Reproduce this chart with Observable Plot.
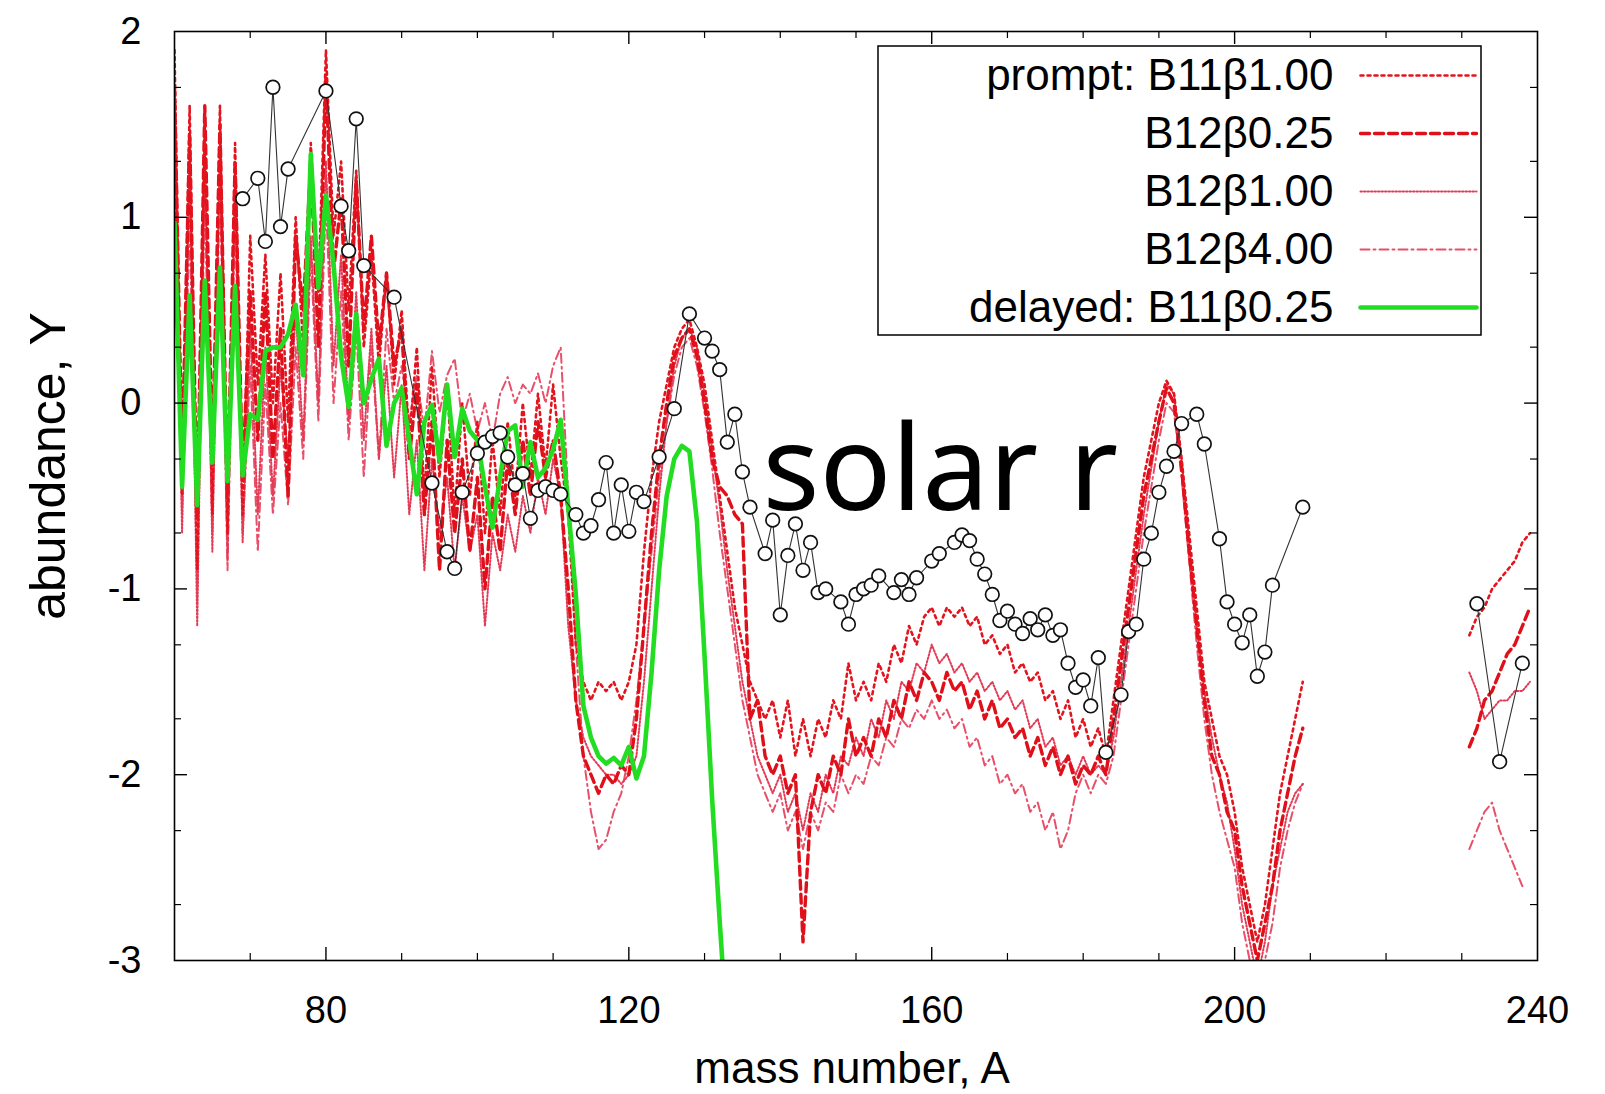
<!DOCTYPE html>
<html><head><meta charset="utf-8">
<script src="https://cdn.jsdelivr.net/npm/d3@7"></script>
<script src="https://cdn.jsdelivr.net/npm/@observablehq/plot@0.6"></script>
<style>html,body{margin:0;padding:0;background:#fff;} #chart{width:1605px;height:1094px;overflow:hidden;}</style>
</head><body><div id="chart"></div>
<script>
// ---------------- data ----------------
const seriesNames = ["prompt: B11β1.00", "B12β0.25", "B12β1.00", "B12β4.00", "delayed: B11β0.25"];
const massStart = 60;            // main red segments run A = 60 … 209
const tailMass = [231, 232, 233, 234, 235, 236, 237, 238, 239];

const b11b100 = [
  1.9, -0.5, 1.6, -0.9, 1.55, -0.6, 1.6, -0.7, 1.4, -0.6,
  0.9, 0.1, 0.8, 0.0, 0.7, -0.1, 1.0, 0.3, 1.4, 0.6,
  1.9, 0.9, 1.3, 0.5, 1.25, 0.3, 0.8, 0.2, 0.7, 0.1,
  0.5, -0.2, 0.3, -0.5, 0.2, -0.4, 0.1, -0.6, 0.0, -0.5,
  -0.1, -0.7, -0.2, -0.6, -0.1, -0.5, 0.0, -0.4, 0.05, -0.35,
  0.1, -0.3, -0.6, -1.3, -1.5, -1.6, -1.5, -1.55, -1.5, -1.6,
  -1.5, -1.3, -0.8, -0.4, -0.1, 0.1, 0.3, 0.4, 0.45, 0.3,
  0.1, -0.2, -0.5, -0.8, -1.1, -1.3, -1.5, -1.6, -1.7, -1.6,
  -1.8, -1.6, -1.9, -1.7, -1.9, -1.7, -1.8, -1.6, -1.7, -1.4,
  -1.6, -1.5, -1.6, -1.4, -1.5, -1.3, -1.4, -1.2, -1.3, -1.15,
  -1.1, -1.2, -1.1, -1.15, -1.1, -1.2, -1.15, -1.3, -1.25, -1.35,
  -1.3, -1.45, -1.4, -1.5, -1.45, -1.6, -1.55, -1.7, -1.6, -1.8,
  -1.7, -1.85, -1.75, -1.9, -1.6, -1.3, -1.0, -0.7, -0.4, -0.2,
  0.0, 0.12, 0.05, -0.3, -0.7, -1.1, -1.5, -1.7, -1.9, -2.0,
  -2.2, -2.5, -2.7, -2.9, -2.7, -2.4, -2.1, -1.9, -1.7, -1.5
];
const b11b100Tail = [-1.25, -1.15, -1.1, -1.0, -0.95, -0.9, -0.85, -0.75, -0.7];

const b12b025 = [
  1.7, -0.3, 1.45, -0.6, 1.6, -0.3, 1.5, -0.5, 1.3, -0.4,
  0.6, -0.2, 0.6, -0.3, 0.4, -0.5, 0.9, 0.5, 1.3, 0.3,
  1.75, 0.7, 1.1, 0.2, 1.2, 0.4, 0.9, 0.3, 0.7, 0.2,
  0.4, -0.3, 0.1, -0.6, -0.1, -0.9, -0.2, -0.7, -0.3, -0.8,
  -0.4, -1.0, -0.5, -0.8, -0.3, -0.6, -0.2, -0.5, -0.1, -0.4,
  -0.2, -0.5, -1.0, -1.6, -1.9, -2.0, -2.1, -2.0, -2.05, -1.95,
  -2.0, -1.7, -1.2, -0.7, -0.3, 0.0, 0.25, 0.35, 0.4, 0.25,
  0.0, -0.3, -0.45, -0.5, -0.6, -0.65, -1.7, -1.6, -1.9, -2.0,
  -1.9, -2.1, -2.0, -2.9, -2.2, -2.0, -2.1, -1.9, -2.0, -1.7,
  -1.9, -1.8, -1.9, -1.7, -1.8, -1.6, -1.7, -1.5, -1.6, -1.45,
  -1.5, -1.6, -1.45, -1.55, -1.5, -1.65, -1.55, -1.7, -1.6, -1.75,
  -1.7, -1.8, -1.75, -1.9, -1.8, -1.95, -1.85, -2.0, -1.9, -2.05,
  -1.95, -2.0, -1.9, -2.0, -1.7, -1.4, -1.1, -0.8, -0.5, -0.3,
  -0.1, 0.08, 0.0, -0.35, -0.8, -1.2, -1.6, -1.9, -2.0, -2.2,
  -2.3, -2.6, -2.8, -3.0, -2.8, -2.6, -2.3, -2.1, -1.9, -1.75
];
const b12b025Tail = [-1.85, -1.75, -1.6, -1.55, -1.45, -1.35, -1.3, -1.2, -1.1];

const b12b100 = [
  1.5, -0.7, 1.3, -1.2, 1.35, -0.8, 1.4, -0.85, 1.2, -0.75,
  0.4, -0.6, 0.3, -0.5, 0.2, -0.3, 0.5, -0.2, 0.9, 0.0,
  1.3, 0.2, 0.8, -0.1, 0.6, -0.2, 0.4, -0.3, 0.2, -0.4,
  0.1, -0.6, -0.2, -0.9, -0.3, -0.7, -0.4, -0.9, -0.5, -0.8,
  -0.6, -1.2, -0.7, -0.9, -0.6, -0.8, -0.5, -0.7, -0.4, -0.6,
  -0.3, -0.5, -1.2, -1.6, -1.8, -1.9, -1.95, -2.0, -2.0, -2.05,
  -2.0, -1.9, -1.5, -1.0, -0.5, -0.1, 0.2, 0.35, 0.4, 0.3,
  0.05, -0.25, -0.55, -0.9, -1.2, -1.5, -1.7, -1.9, -2.0, -2.1,
  -2.0, -2.2, -2.1, -2.3, -2.1, -2.2, -2.0, -2.1, -1.9, -1.95,
  -1.8, -1.9, -1.7, -1.8, -1.6, -1.7, -1.5, -1.55, -1.4, -1.45,
  -1.3, -1.4, -1.35, -1.45, -1.4, -1.5, -1.45, -1.55, -1.5, -1.6,
  -1.55, -1.65, -1.6, -1.75, -1.7, -1.85, -1.8, -1.95, -1.9, -2.0,
  -1.9, -2.0, -1.95, -2.0, -1.8, -1.5, -1.2, -0.9, -0.6, -0.35,
  -0.1, 0.1, 0.05, -0.3, -0.75, -1.2, -1.55, -1.8, -2.0, -2.15,
  -2.4, -2.7, -2.9, -3.1, -2.9, -2.6, -2.4, -2.2, -2.1, -2.05
];
const b12b100Tail = [-1.45, -1.55, -1.7, -1.65, -1.6, -1.6, -1.55, -1.55, -1.5];

const b12b400 = [
  1.2, -0.6, 1.0, -1.0, 1.1, -0.7, 1.2, -0.9, 1.0, -0.7,
  0.2, -0.8, 0.1, -0.6, 0.0, -0.55, 0.3, -0.3, 0.8, -0.1,
  1.1, 0.0, 0.6, -0.2, 0.4, -0.4, 0.3, -0.3, 0.4, 0.0,
  0.2, -0.1, 0.15, -0.15, 0.28, -0.05, 0.15, 0.24, -0.1, 0.05,
  -0.15, 0.0, -0.2, 0.05, 0.14, 0.0, 0.1, 0.05, 0.16, 0.0,
  0.2, 0.3, -0.5, -1.3, -1.9, -2.2, -2.4, -2.35, -2.2, -2.1,
  -1.9, -1.6, -1.2, -0.8, -0.4, -0.1, 0.15, 0.3, 0.35, 0.2,
  -0.05, -0.35, -0.7, -1.0, -1.3, -1.6, -1.8, -2.0, -2.1, -2.2,
  -2.1, -2.3, -2.2, -2.4, -2.2, -2.3, -2.15, -2.2, -2.0, -2.1,
  -2.0, -2.05, -1.9, -1.95, -1.8, -1.85, -1.7, -1.75, -1.65, -1.7,
  -1.6, -1.7, -1.65, -1.75, -1.7, -1.85, -1.8, -1.95, -1.9, -2.05,
  -2.0, -2.1, -2.05, -2.2, -2.15, -2.3, -2.2, -2.4, -2.3, -2.1,
  -2.0, -2.1, -2.0, -2.05, -1.9, -1.6, -1.3, -1.0, -0.7, -0.45,
  -0.2, 0.0, -0.05, -0.4, -0.85, -1.3, -1.7, -2.0, -2.2, -2.35,
  -2.5, -2.8, -3.0, -3.2, -3.0, -2.8, -2.5, -2.3, -2.15, -2.05
];
const b12b400Tail = [-2.4, -2.3, -2.2, -2.15, -2.3, -2.4, -2.5, -2.6];

// delayed B11β0.25, A = 60 … 133
const delayedB11b025 = [
  0.97, -0.45, 0.58, -0.55, 0.66, -0.32, 0.73, -0.42, 0.63, -0.39,
  -0.06, -0.09, 0.28, 0.30, 0.30, 0.37, 0.53, 0.15, 1.34, 0.62,
  1.12, 0.75, 0.25, -0.02, 0.48, 0.0, 0.13, 0.24, -0.23, 0.0,
  0.08, -0.2, -0.49, -0.1, -0.01, -0.31, 0.10, -0.29, -0.03, -0.15,
  -0.20, -0.45, -0.67, -0.4, -0.15, -0.12, -0.45, -0.21, -0.40, -0.35,
  -0.25, -0.09, -0.56, -1.03, -1.63, -1.80, -1.90, -1.94, -1.91, -1.95,
  -1.85, -2.02, -1.9, -1.45, -0.9, -0.5, -0.3, -0.23, -0.26, -0.64,
  -1.36, -2.13, -2.79, -3.4
];

// solar r-process abundances
const solarMass = [69, 71, 72, 73, 74, 75, 80, 82, 83, 84, 85, 89,
  94, 96, 97, 98, 100, 101, 102, 103, 104, 105, 106, 107, 108, 109, 110, 111,
  113, 114, 115, 116, 117, 118, 119, 120, 121, 122, 124, 126, 128, 130, 131, 132,
  133, 134, 135, 136, 138, 139, 140, 141, 142, 143, 144, 145, 146, 148, 149, 150,
  151, 152, 153, 155, 156, 157, 158, 160, 161, 163, 164, 165, 166, 167, 168, 169,
  170, 171, 172, 173, 174, 175, 176, 177, 178, 179, 180, 181, 182, 183, 185, 186,
  187, 188, 189, 190, 191, 192, 193, 195, 196, 198, 199, 200, 201, 202, 203, 204,
  205, 209, 232, 235, 238];
const solarY = [1.10, 1.21, 0.87, 1.70, 0.95, 1.26, 1.68, 1.06, 0.82, 1.53, 0.74, 0.57,
  -0.43, -0.80, -0.89, -0.48, -0.27, -0.21, -0.18, -0.16, -0.29, -0.44, -0.38, -0.62, -0.47, -0.45, -0.47, -0.49,
  -0.60, -0.70, -0.66, -0.52, -0.32, -0.70, -0.44, -0.69, -0.48, -0.53, -0.29, -0.03, 0.48, 0.35, 0.28, 0.18,
  -0.21, -0.06, -0.37, -0.56, -0.81, -0.63, -1.14, -0.82, -0.65, -0.90, -0.75, -1.02, -1.00, -1.07, -1.19, -1.03,
  -1.00, -0.98, -0.93, -1.02, -0.95, -1.03, -0.94, -0.85, -0.81, -0.75, -0.71, -0.74, -0.84, -0.92, -1.03, -1.17,
  -1.12, -1.19, -1.24, -1.16, -1.22, -1.14, -1.25, -1.22, -1.40, -1.53, -1.49, -1.63, -1.37, -1.88, -1.57, -1.23,
  -1.19, -0.84, -0.70, -0.48, -0.34, -0.26, -0.11, -0.06, -0.22, -0.73, -1.07, -1.19, -1.29, -1.14, -1.47, -1.34,
  -0.98, -0.56, -1.08, -1.93, -1.40];

const xLabelTicks = [80, 120, 160, 200, 240];
const yLabelTicks = [2, 1, 0, -1, -2, -3];

// ---------------- layout ----------------
const W = 1605, H = 1094, mL = 174, mR = 68, mT = 31, mB = 134;
const xDom = [60, 240], yDom = [-3, 2];
const pxPerX = (W - mL - mR) / (xDom[1] - xDom[0]);
const pxPerY = (H - mT - mB) / (yDom[1] - yDom[0]);
const xAt = px => xDom[0] + (px - mL) / pxPerX;
const yAt = py => yDom[1] - (py - mT) / pxPerY;

const styles = [
  {stroke: "#e4141e", strokeWidth: 2.6, strokeDasharray: "3,4"},
  {stroke: "#e0101a", strokeWidth: 3.4, strokeDasharray: "9,5"},
  {stroke: "#e33a55", strokeWidth: 2.0, strokeDasharray: "1.5,2"},
  {stroke: "#e8506a", strokeWidth: 2.0, strokeDasharray: "9,4,2,4"},
  {stroke: "#22dd22", strokeWidth: 4.6, strokeDasharray: null}
];

const redSets = [[b11b100, b11b100Tail], [b12b025, b12b025Tail], [b12b100, b12b100Tail], [b12b400, b12b400Tail]];
const redRows = redSets.map(([main, tail], i) => [
  ...main.map((v, j) => ({seg: "a", A: massStart + j, Y: v})),
  ...tail.map((v, j) => ({seg: "b", A: tailMass[j], Y: v}))
]);
const greenRows = delayedB11b025.map((v, j) => ({A: massStart + j, Y: v}));
const solarRows = solarMass.map((a, i) => ({A: a, Y: solarY[i], seg: a > 220 ? "b" : "a"}));

// ticks
const xMinor = d3.range(70, 240, 10).filter(v => v % 40 !== 0);
const xMajor = [80, 120, 160, 200];
const yMajor = [-2, -1, 0, 1];
const yMinor = d3.range(-3, 2).flatMap(k => [k + Math.log10(2), k + Math.log10(5)]);
const majX = 13 / pxPerY, minX = 7 / pxPerY;   // x-axis tick lengths in y units
const majY = 13 / pxPerX, minY = 7 / pxPerX;   // y-axis tick lengths in x units

// legend geometry (pixel positions converted to data space)
const legBox = {x1: xAt(878), x2: xAt(1481), y1: yAt(46), y2: yAt(335)};
const legRowsPx = [75, 133, 191, 249, 307];
const legend = seriesNames.map((name, i) => ({name, i, y: yAt(legRowsPx[i])}));

const marks = [];
// red model curves
[3, 2, 1, 0].forEach(i => {
  marks.push(Plot.line(redRows[i], {x: "A", y: "Y", z: "seg", ...styles[i], clip: true, strokeLinejoin: "round"}));
});
// delayed curve
marks.push(Plot.line(greenRows, {x: "A", y: "Y", ...styles[4], clip: true, strokeLinejoin: "round"}));
// solar r
marks.push(Plot.line(solarRows, {x: "A", y: "Y", z: "seg", stroke: "#333", strokeWidth: 1.1}));
marks.push(Plot.dot(solarRows, {x: "A", y: "Y", r: 6.8, stroke: "#111", strokeWidth: 1.7, fill: "white"}));

// ticks (inward, all four sides)
marks.push(Plot.ruleX(xMajor, {x: d => d, y1: -3, y2: -3 + majX, stroke: "#000", strokeWidth: 1.4}));
marks.push(Plot.ruleX(xMajor, {x: d => d, y1: 2, y2: 2 - majX, stroke: "#000", strokeWidth: 1.4}));
marks.push(Plot.ruleX(xMinor, {x: d => d, y1: -3, y2: -3 + minX, stroke: "#000", strokeWidth: 1.2}));
marks.push(Plot.ruleX(xMinor, {x: d => d, y1: 2, y2: 2 - minX, stroke: "#000", strokeWidth: 1.2}));
marks.push(Plot.ruleY(yMajor, {y: d => d, x1: 60, x2: 60 + majY, stroke: "#000", strokeWidth: 1.4}));
marks.push(Plot.ruleY(yMajor, {y: d => d, x1: 240, x2: 240 - majY, stroke: "#000", strokeWidth: 1.4}));
marks.push(Plot.ruleY(yMinor, {y: d => d, x1: 60, x2: 60 + minY, stroke: "#000", strokeWidth: 1.2}));
marks.push(Plot.ruleY(yMinor, {y: d => d, x1: 240, x2: 240 - minY, stroke: "#000", strokeWidth: 1.2}));

// axes labels
marks.push(Plot.axisX(xLabelTicks, {tickSize: 0, tickPadding: 36, tickFormat: d => String(d), fontSize: 38}));
marks.push(Plot.axisY(yLabelTicks, {tickSize: 0, tickPadding: 33, tickFormat: d => String(d), fontSize: 38}));
marks.push(Plot.text(["mass number, A"], {frameAnchor: "bottom", dy: 122, dx: -4, lineAnchor: "bottom", textAnchor: "middle", fontSize: 44, text: d => d}));
marks.push(Plot.text(["abundance, Y"], {frameAnchor: "left", rotate: -90, dx: -145, dy: -30, lineAnchor: "top", textAnchor: "middle", fontSize: 50, text: d => d}));

// "solar r" annotation
marks.push(Plot.text(["solar r"], {x: xAt(762), y: yAt(509), text: d => d, textAnchor: "start", lineAnchor: "bottom", fontSize: 119, fontFamily: "'Noto Sans', 'Open Sans', sans-serif", fill: "#000"}));

// legend
marks.push(Plot.rect([legBox], {x1: "x1", x2: "x2", y1: "y1", y2: "y2", fill: "white", stroke: "#000", strokeWidth: 1.5}));
legend.forEach(r => {
  marks.push(Plot.line([{A: xAt(1360), Y: r.y}, {A: xAt(1476), Y: r.y}], {x: "A", y: "Y", ...styles[r.i]}));
});
marks.push(Plot.text(legend, {x: xAt(1333), y: "y", text: "name", textAnchor: "end", lineAnchor: "middle", fontSize: 44}));

marks.push(Plot.frame({stroke: "#000", strokeWidth: 1.6}));

const chart = Plot.plot({
  width: W, height: H,
  marginLeft: mL, marginRight: mR, marginTop: mT, marginBottom: mB,
  x: {domain: xDom, label: null, axis: null},
  y: {domain: yDom, label: null, axis: null},
  style: {fontFamily: "'Liberation Sans', Arial, Helvetica, sans-serif", fontSize: "38px", background: "#fff", color: "#000", overflow: "visible"},
  marks
});
document.getElementById("chart").appendChild(chart);
</script>
</body></html>
